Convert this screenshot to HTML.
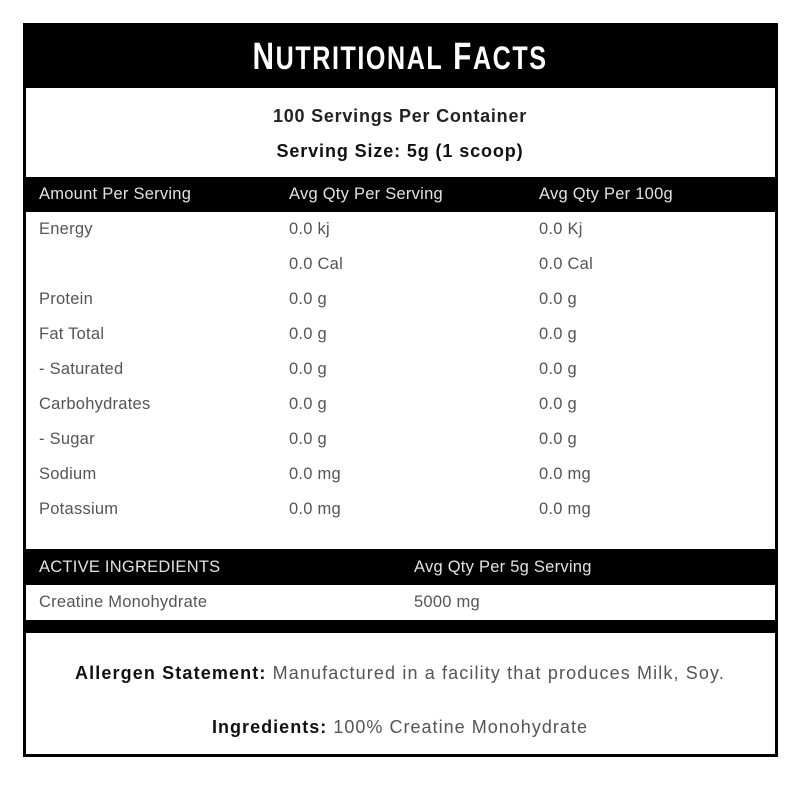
<!DOCTYPE html>
<html>
<head>
<meta charset="utf-8">
<style>
  html,body{margin:0;padding:0;background:#fff;}
  body{width:800px;height:800px;position:relative;overflow:hidden;font-family:"Liberation Sans",Arial,sans-serif;}
  .box{position:absolute;left:23px;top:23px;width:755px;height:734px;border:3px solid #000;box-sizing:border-box;background:#fff;}
  .band{position:absolute;left:23px;width:755px;background:#000;}
  .t{position:absolute;white-space:nowrap;}
  .row{position:absolute;font-size:16.5px;line-height:35px;height:35px;color:#555;letter-spacing:0.25px;white-space:nowrap;}
  .hdr{color:#e2e2e2;}
  .title{position:absolute;left:0;width:800px;top:38px;text-align:center;color:#fff;font-weight:bold;font-size:38px;line-height:38px;}
  .title .in{display:inline-block;transform-origin:center center;letter-spacing:2px;}
  .title .s{font-size:32px;}
  .c{left:0;width:800px;text-align:center;}
</style>
</head>
<body>
<div class="box"></div>

<!-- title band -->
<div class="band" style="top:23px;height:65px;"></div>
<div class="title"><span class="in" id="ttl" style="transform:scaleX(0.79)">N<span class="s">UTRITIONAL</span> F<span class="s">ACTS</span></span></div>

<!-- servings -->
<div class="t c fit" style="top:106px;font-size:18px;line-height:20px;font-weight:bold;color:#222;letter-spacing:0.8px;--w:254;"><span>100 Servings Per Container</span></div>
<div class="t c fit" style="top:141px;font-size:18px;line-height:20px;font-weight:bold;color:#111;letter-spacing:0.9px;--w:247;"><span>Serving Size: 5g (1 scoop)</span></div>

<!-- column header band -->
<div class="band" style="top:177px;height:35px;"></div>
<div class="row hdr" style="top:177px;left:39px;">Amount Per Serving</div>
<div class="row hdr" style="top:177px;left:289px;">Avg Qty Per Serving</div>
<div class="row hdr" style="top:177px;left:539px;">Avg Qty Per 100g</div>

<!-- rows -->
<div class="row" style="top:212px;left:39px;">Energy</div>
<div class="row" style="top:212px;left:289px;">0.0 kj</div>
<div class="row" style="top:212px;left:539px;">0.0 Kj</div>

<div class="row" style="top:247px;left:289px;">0.0 Cal</div>
<div class="row" style="top:247px;left:539px;">0.0 Cal</div>

<div class="row" style="top:282px;left:39px;">Protein</div>
<div class="row" style="top:282px;left:289px;">0.0 g</div>
<div class="row" style="top:282px;left:539px;">0.0 g</div>

<div class="row" style="top:317px;left:39px;">Fat Total</div>
<div class="row" style="top:317px;left:289px;">0.0 g</div>
<div class="row" style="top:317px;left:539px;">0.0 g</div>

<div class="row" style="top:352px;left:39px;">- Saturated</div>
<div class="row" style="top:352px;left:289px;">0.0 g</div>
<div class="row" style="top:352px;left:539px;">0.0 g</div>

<div class="row" style="top:387px;left:39px;">Carbohydrates</div>
<div class="row" style="top:387px;left:289px;">0.0 g</div>
<div class="row" style="top:387px;left:539px;">0.0 g</div>

<div class="row" style="top:422px;left:39px;">- Sugar</div>
<div class="row" style="top:422px;left:289px;">0.0 g</div>
<div class="row" style="top:422px;left:539px;">0.0 g</div>

<div class="row" style="top:457px;left:39px;">Sodium</div>
<div class="row" style="top:457px;left:289px;">0.0 mg</div>
<div class="row" style="top:457px;left:539px;">0.0 mg</div>

<div class="row" style="top:492px;left:39px;">Potassium</div>
<div class="row" style="top:492px;left:289px;">0.0 mg</div>
<div class="row" style="top:492px;left:539px;">0.0 mg</div>

<!-- active ingredients -->
<div class="band" style="top:549px;height:36px;"></div>
<div class="row hdr" style="top:550px;left:39px;">ACTIVE INGREDIENTS</div>
<div class="row hdr" style="top:550px;left:414px;">Avg Qty Per 5g Serving</div>

<div class="row" style="top:585px;left:39px;">Creatine Monohydrate</div>
<div class="row" style="top:585px;left:414px;">5000 mg</div>

<div class="band" style="top:620px;height:13px;"></div>

<!-- allergen -->
<div class="t c fit" style="top:663px;font-size:18px;line-height:20px;color:#555;letter-spacing:1.1px;--w:650;"><span><b style="color:#111;">Allergen Statement:</b> Manufactured in a facility that produces Milk, Soy.</span></div>
<div class="t c fit" style="top:717px;font-size:18px;line-height:20px;color:#555;letter-spacing:1.0px;--w:376;"><span><b style="color:#111;">Ingredients:</b> 100% Creatine Monohydrate</span></div>

<script>
(function(){
  try{
    var els=document.querySelectorAll('.fit');
    for(var i=0;i<els.length;i++){
      var el=els[i];
      var w=parseFloat(getComputedStyle(el).getPropertyValue('--w'));
      if(!w) continue;
      var sp=el.querySelector('span');
      el.style.letterSpacing='0px';
      var nat=sp.getBoundingClientRect().width;
      var n=sp.textContent.length;
      var ls=(w-nat)/n;
      el.style.letterSpacing=ls+'px';
    }
    var t=document.getElementById('ttl');
    t.style.transform='none';
    var tw=t.getBoundingClientRect().width;
    if(tw>0){ t.style.transform='scaleX('+(295/tw)+')'; }
  }catch(e){}
})();
</script>
</body>
</html>
